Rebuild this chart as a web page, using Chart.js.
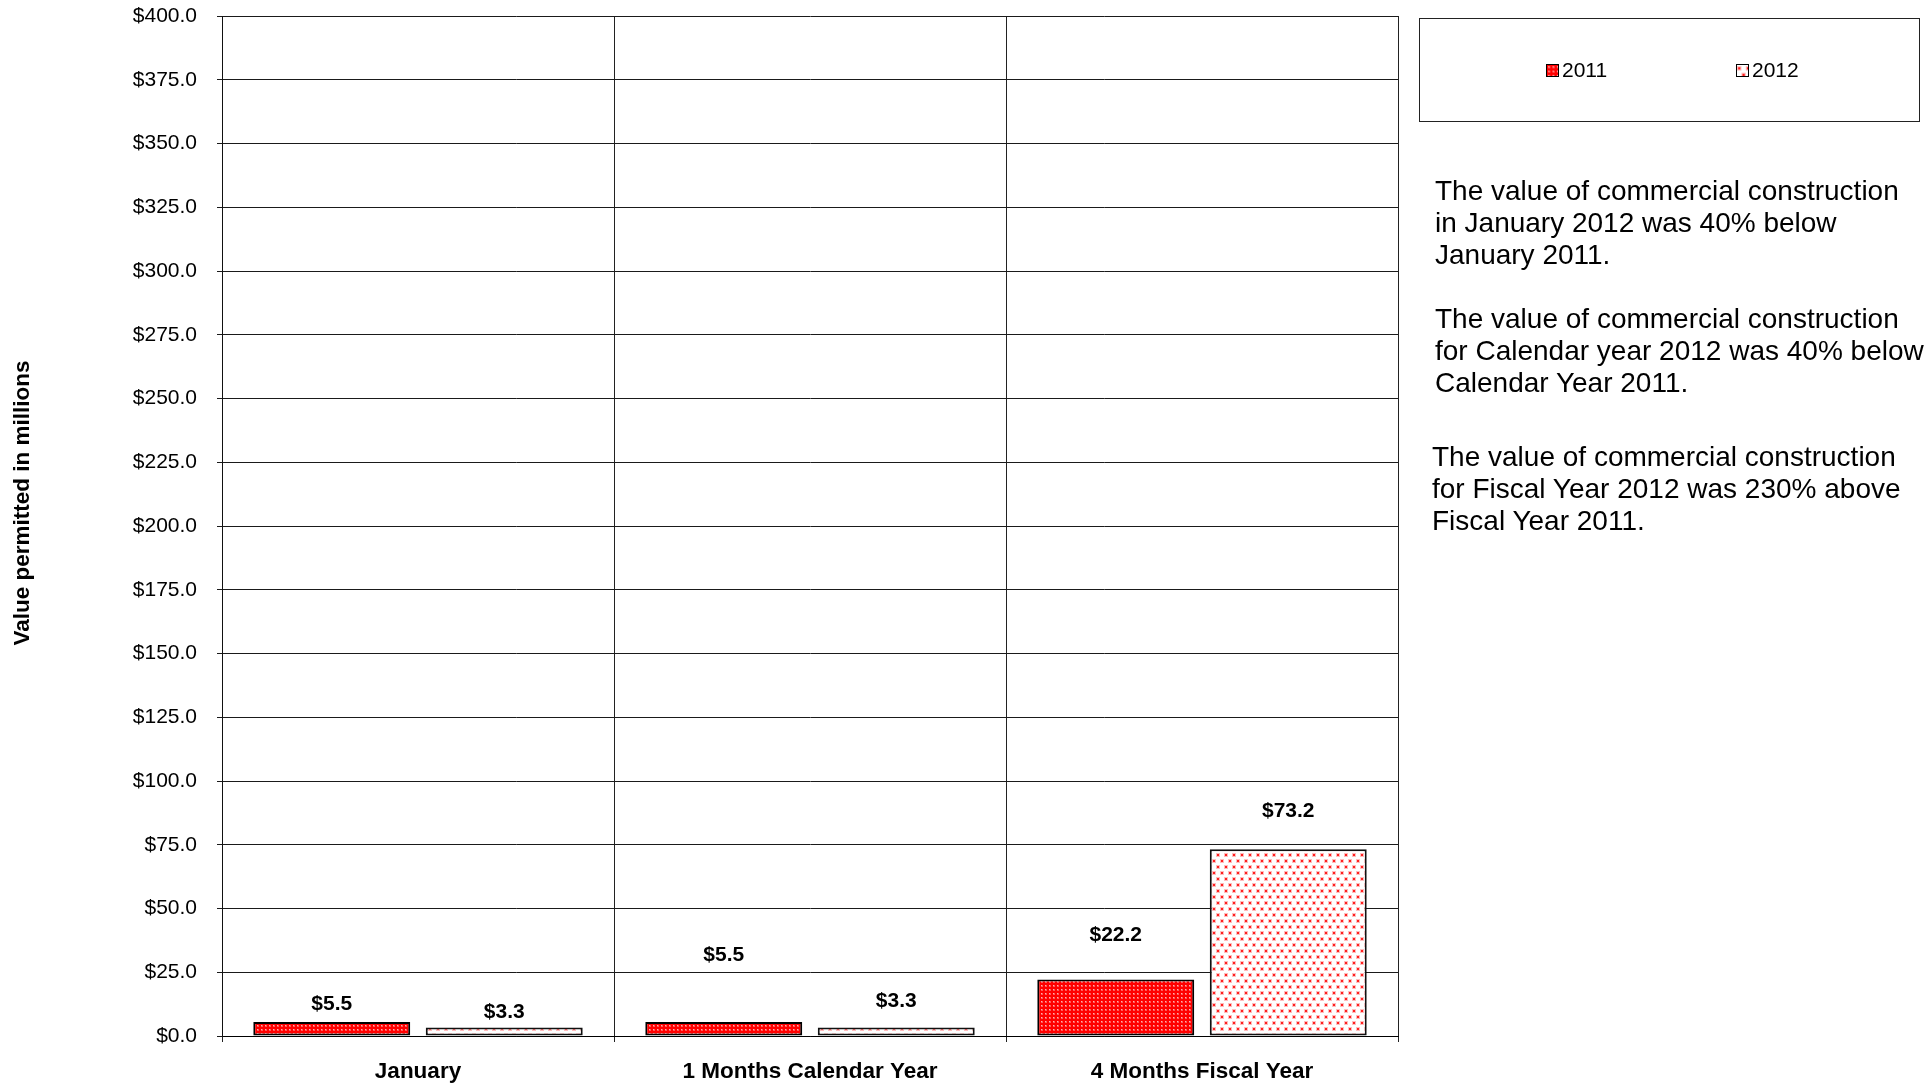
<!DOCTYPE html>
<html>
<head>
<meta charset="utf-8">
<script src="https://cdn.jsdelivr.net/npm/chart.js@4/dist/chart.umd.min.js"></script>
<style>
  html, body { margin: 0; padding: 0; background: #fff; }
  body { font-family: "Liberation Sans", Arial, sans-serif; color: #000; }
  #wrap { position: relative; width: 1932px; height: 1085px; overflow: hidden; }
  #chartBox { position: absolute; left: 0; top: 0; width: 1932px; height: 1085px; }
  #legend {
    position: absolute; left: 1419px; top: 18px; width: 499px; height: 102px;
    border: 1.5px solid #222; box-sizing: content-box;
  }
  .leg-item { position: absolute; top: 0; height: 102px; display: flex; align-items: center; font-size: 21px; }
  .leg-item canvas { width: 13px; height: 13px; border: 1.5px solid #000; margin-right: 3px; box-sizing: border-box; }
  .note { position: absolute; font-size: 28px; line-height: 32px; white-space: pre; }
</style>
</head>
<body>
<div id="wrap">
  <div id="chartBox"><canvas id="permitChart"></canvas></div>
  <div id="legend"></div>
  <div class="note" style="left:1435px; top:175px;">The value of commercial construction
in January 2012 was 40% below
January 2011.</div>
  <div class="note" style="left:1435px; top:303px;">The value of commercial construction
for Calendar year 2012 was 40% below
Calendar Year 2011.</div>
  <div class="note" style="left:1432px; top:441px;">The value of commercial construction
for Fiscal Year 2012 was 230% above
Fiscal Year 2011.</div>
</div>

<script>
// --- data ---
const categories = ['January', '1 Months Calendar Year', '4 Months Fiscal Year'];
const seriesNames = ['2011', '2012'];
const values2011 = [5.5, 5.5, 22.2];
const values2012 = [3.3, 3.3, 73.2];
const yTicks = { min: 0, max: 400, step: 25 };

// how far above the bar top each value label sits (px)
const labelLift2011 = [18, 67, 44];
const labelLift2012 = [15, 26, 38];

const FONT = '"Liberation Sans", Arial, sans-serif';

// --- fill patterns ---
function makePattern(kind) {
    const c = document.createElement('canvas');
    const g = c.getContext('2d');
    if (kind === 'dense') {
        c.width = 4; c.height = 4;
        g.fillStyle = '#ff0000';
        g.fillRect(0, 0, 4, 4);
        g.fillStyle = '#ff5a5a';
        g.fillRect(1, 1, 2, 2);
        g.fillStyle = '#ffb0b0';
        g.fillRect(1, 1, 1, 1);
    } else {
        c.width = 8; c.height = 12;
        g.fillStyle = '#ffffff';
        g.fillRect(0, 0, 8, 12);
        const dot = (x, y) => {
            g.fillStyle = '#ffbcbc';
            g.fillRect(x - 1, y - 1, 4, 4);
            g.fillStyle = '#ff2020';
            g.fillRect(x, y, 2, 2);
        };
        dot(1, 2);
        dot(5, 8);
    }
    return c;
}

const patternCanvases = [makePattern('dense'), makePattern('sparse')];
const ctx = document.getElementById('permitChart').getContext('2d');
const fills = patternCanvases.map(p => ctx.createPattern(p, 'repeat'));

// --- plugins ---
const valueLabels = {
    id: 'valueLabels',
    afterDatasetsDraw(chart) {
        const c = chart.ctx;
        c.save();
        c.font = 'bold 21px ' + FONT;
        c.fillStyle = '#000';
        c.textAlign = 'center';
        c.textBaseline = 'middle';
        chart.data.datasets.forEach((ds, i) => {
            chart.getDatasetMeta(i).data.forEach((bar, j) => {
                c.fillText('$' + ds.data[j].toFixed(1), bar.x, bar.y - ds.labelLift[j]);
            });
        });
        c.restore();
    }
};

const yTitle = {
    id: 'yTitle',
    afterDraw(chart) {
        const c = chart.ctx;
        c.save();
        c.translate(23, 503);
        c.rotate(-Math.PI / 2);
        c.font = 'bold 22.5px ' + FONT;
        c.fillStyle = '#000';
        c.textAlign = 'center';
        c.textBaseline = 'middle';
        c.fillText('Value permitted in millions', 0, 0);
        c.restore();
    }
};

// --- chart ---
new Chart(ctx, {
    type: 'bar',
    data: {
        labels: categories,
        datasets: [{
            label: seriesNames[0],
            data: values2011,
            labelLift: labelLift2011,
            backgroundColor: fills[0],
            borderColor: '#000',
            borderWidth: 2,
            borderSkipped: false
        }, {
            label: seriesNames[1],
            data: values2012,
            labelLift: labelLift2012,
            backgroundColor: fills[1],
            borderColor: '#111',
            borderWidth: 2,
            borderSkipped: false
        }]
    },
    options: {
        responsive: true,
        maintainAspectRatio: false,
        animation: false,
        categoryPercentage: 0.88,
        barPercentage: 0.91,
        layout: { padding: { left: 0, right: 534, top: 16, bottom: 0 } },
        plugins: {
            legend: { display: false },
            tooltip: { enabled: false }
        },
        scales: {
            x: {
                grid: {
                    offset: true,
                    color: '#222',
                    lineWidth: 1,
                    tickLength: 6
                },
                border: { color: '#000', width: 1 },
                ticks: {
                    color: '#000',
                    padding: 16,
                    maxRotation: 0,
                    font: { family: FONT, size: 22.5, weight: 'bold' }
                },
                afterFit(scale) { scale.height = 49; }
            },
            y: {
                min: yTicks.min,
                max: yTicks.max,
                grid: { color: '#1a1a1a', lineWidth: 1, tickLength: 5 },
                border: { color: '#111', width: 1 },
                ticks: {
                    stepSize: yTicks.step,
                    color: '#000',
                    padding: 20,
                    font: { family: FONT, size: 21 },
                    callback: v => '$' + v.toFixed(1)
                },
                afterFit(scale) {
                    scale.width = 222;
                    scale.paddingTop = 0;
                    scale.paddingBottom = 0;
                }
            }
        }
    },
    plugins: [valueLabels, yTitle]
});

// --- legend (html) ---
const legend = document.getElementById('legend');
const legendLeft = [126, 316];
seriesNames.forEach((name, i) => {
    const item = document.createElement('div');
    item.className = 'leg-item';
    item.style.left = legendLeft[i] + 'px';
    const sw = document.createElement('canvas');
    sw.width = 10; sw.height = 10;
    const sg = sw.getContext('2d');
    sg.fillStyle = sg.createPattern(patternCanvases[i], 'repeat');
    sg.fillRect(0, 0, 10, 10);
    item.appendChild(sw);
    item.appendChild(document.createTextNode(name));
    legend.appendChild(item);
});
</script>
</body>
</html>
